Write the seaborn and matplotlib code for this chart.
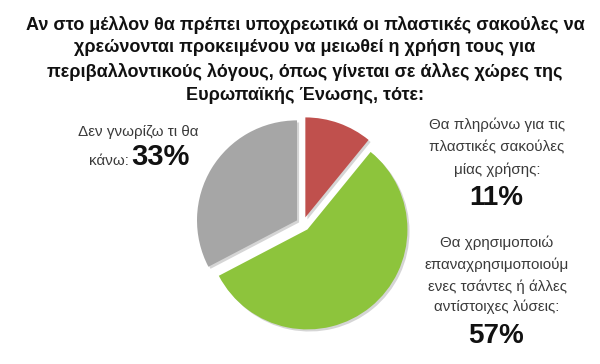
import matplotlib
matplotlib.use("Agg")
import matplotlib.pyplot as plt
import matplotlib.patheffects as pe
import seaborn as sns

sns.set_style("white")
plt.rcParams['font.family'] = ['Liberation Sans', 'DejaVu Sans']

title_lines = [
    "Αν στο μέλλον θα πρέπει υποχρεωτικά οι πλαστικές σακούλες να",
    "χρεώνονται προκειμένου να μειωθεί η χρήση τους για",
    "περιβαλλοντικούς λόγους, όπως γίνεται σε άλλες χώρες της",
    "Ευρωπαϊκής Ένωσης, τότε:",
]
categories = [
    ["Θα πληρώνω για τις", "πλαστικές σακούλες", "μίας χρήσης:"],
    ["Θα χρησιμοποιώ", "επαναχρησιμοποιούμ", "ενες τσάντες ή άλλες", "αντίστοιχες λύσεις:"],
    ["Δεν γνωρίζω τι θα", "κάνω:"],
]
values = [11, 57, 33]
pct_labels = ["11%", "57%", "33%"]
colors = ["#C0504D", "#8DC43C", "#A6A6A6"]

W, H = 600, 364
fig = plt.figure(figsize=(W / 100, H / 100), dpi=100)
ax = fig.add_axes([0, 0, 1, 1])

def Y(ypix):
    return H - ypix

wedges, _ = ax.pie(
    values, colors=colors, startangle=90, counterclock=False,
    explode=[7, 7, 7], radius=100, center=(303, Y(224)),
    wedgeprops=dict(linewidth=0,
                    path_effects=[pe.SimplePatchShadow(offset=(1.5, -1.5), shadow_rgbFace="#888888", alpha=0.35),
                                  pe.Normal()]),
)
ax.set_xlim(0, W)
ax.set_ylim(0, H)
ax.set_aspect('equal')
ax.axis('off')

# Title
ty = [25, 48, 72, 95]
for line, y in zip(title_lines, ty):
    ax.text(305, Y(y), line, ha='center', va='center', fontsize=13,
            fontweight='bold', color='#111111')

lab_color = '#3a3a3a'
lab_fs = 10.9
pct_color = '#111111'

# Left label (Δεν γνωρίζω)
ax.text(198, Y(132), categories[2][0], ha='right', va='center',
        fontsize=lab_fs, color=lab_color)
ax.text(129, Y(161), categories[2][1], ha='right', va='center',
        fontsize=lab_fs, color=lab_color)
ax.text(131, Y(157), pct_labels[2], ha='left', va='center', fontsize=21,
        fontweight='bold', color=pct_color)

# Right label (11%)
for line, y in zip(categories[0], [125, 148, 170]):
    ax.text(497, Y(y), line, ha='center', va='center', fontsize=lab_fs, color=lab_color)
ax.text(496, Y(198), pct_labels[0], ha='center', va='center', fontsize=20,
        fontweight='bold', color=pct_color)

# Right label (57%)
for line, y in zip(categories[1], [243, 265, 287, 307]):
    ax.text(497, Y(y), line, ha='center', va='center', fontsize=lab_fs, color=lab_color)
ax.text(496, Y(336), pct_labels[1], ha='center', va='center', fontsize=20,
        fontweight='bold', color=pct_color)

fig.savefig("out.png", dpi=100)
